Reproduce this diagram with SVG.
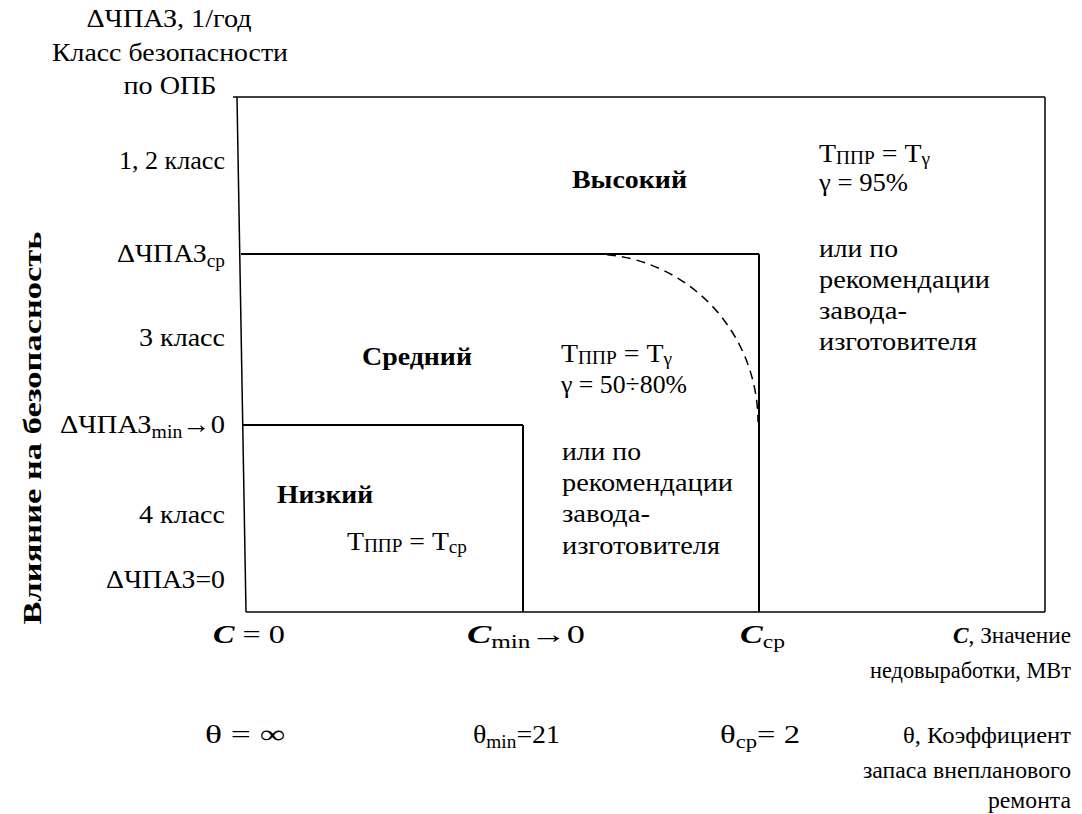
<svg xmlns="http://www.w3.org/2000/svg" width="1082" height="814" viewBox="0 0 1082 814" font-family="Liberation Serif, Tinos, Times New Roman, Nimbus Roman, Noto Serif, DejaVu Serif, FreeSerif, serif">
<style>
text{font-size:26px;fill:#000}
.b{font-weight:bold}
.r{text-anchor:end}
.m{text-anchor:middle}
.s{font-size:18px}
.n{font-size:23px}
.ln{stroke:#000;stroke-width:2;fill:none}
.ax{stroke:#000;stroke-width:1.5;fill:none}
</style>
<rect width="1082" height="814" fill="#fff"/>
<g id="connectors">
<line class="ax" x1="237" y1="97" x2="246" y2="612"/>
<line class="ax" x1="233" y1="97" x2="1045" y2="97"/>
<line class="ax" x1="1045" y1="97" x2="1045" y2="612"/>
<line class="ax" x1="246" y1="612" x2="1045" y2="612"/>
<line class="ln" x1="241" y1="254" x2="759" y2="254"/>
<line class="ln" x1="759" y1="254" x2="759" y2="612"/>
<line class="ln" x1="243" y1="425" x2="523" y2="425"/>
<line class="ln" x1="523" y1="425" x2="523" y2="612"/>
<path class="ax" stroke-dasharray="9,6" d="M592,254 A166,168 0 0 1 758,422"/>
</g>
<g id="y-title">
<text class="m" x="169" y="27" textLength="165" lengthAdjust="spacingAndGlyphs">ΔЧПАЗ, 1/год</text>
<text class="m" x="170" y="61" textLength="236" lengthAdjust="spacingAndGlyphs">Класс безопасности</text>
<text class="m" x="170" y="94" textLength="93" lengthAdjust="spacingAndGlyphs">по ОПБ</text>
</g>
<g id="y-axis-label">
<text class="b m" font-size="28" transform="translate(41,428) rotate(-90)" textLength="393" lengthAdjust="spacingAndGlyphs">Влияние на безопасность</text>
</g>
<g id="y-labels">
<text class="r" x="225" y="169" textLength="106" lengthAdjust="spacingAndGlyphs">1, 2 класс</text>
<text class="r" x="225" y="262" textLength="108" lengthAdjust="spacingAndGlyphs">ΔЧПАЗ<tspan class="s" dy="5">ср</tspan></text>
<text class="r" x="225" y="346" textLength="86" lengthAdjust="spacingAndGlyphs">3 класс</text>
<text class="r" x="225" y="433" textLength="165" lengthAdjust="spacingAndGlyphs">ΔЧПАЗ<tspan class="s" dy="5">min</tspan><tspan dy="-5">→0</tspan></text>
<text class="r" x="225" y="523" textLength="86" lengthAdjust="spacingAndGlyphs">4 класс</text>
<text class="r" x="225" y="588" textLength="119" lengthAdjust="spacingAndGlyphs">ΔЧПАЗ=0</text>
</g>
<g id="high">
<text class="b" x="572" y="188" textLength="115" lengthAdjust="spacingAndGlyphs">Высокий</text>
<text x="819" y="162" textLength="111" lengthAdjust="spacingAndGlyphs">Т<tspan class="s" dy="2">ППР</tspan><tspan dy="-2"> = Т</tspan><tspan class="s" dy="3">γ</tspan></text>
<text x="819" y="191" textLength="89" lengthAdjust="spacingAndGlyphs">γ = 95%</text>
<text x="819" y="257" textLength="79" lengthAdjust="spacingAndGlyphs">или по</text>
<text x="819" y="288" textLength="171" lengthAdjust="spacingAndGlyphs">рекомендации</text>
<text x="819" y="319" textLength="88" lengthAdjust="spacingAndGlyphs">завода-</text>
<text x="819" y="350" textLength="158" lengthAdjust="spacingAndGlyphs">изготовителя</text>
</g>
<g id="medium">
<text class="b" x="362" y="365" textLength="110" lengthAdjust="spacingAndGlyphs">Средний</text>
<text x="561" y="362" textLength="111" lengthAdjust="spacingAndGlyphs">Т<tspan class="s" dy="2">ППР</tspan><tspan dy="-2"> = Т</tspan><tspan class="s" dy="3">γ</tspan></text>
<text x="561" y="393" textLength="126" lengthAdjust="spacingAndGlyphs">γ = 50÷80%</text>
<text x="562" y="460" textLength="79" lengthAdjust="spacingAndGlyphs">или по</text>
<text x="562" y="491" textLength="171" lengthAdjust="spacingAndGlyphs">рекомендации</text>
<text x="562" y="522" textLength="88" lengthAdjust="spacingAndGlyphs">завода-</text>
<text x="562" y="554" textLength="158" lengthAdjust="spacingAndGlyphs">изготовителя</text>
</g>
<g id="low">
<text class="b" x="277" y="503" textLength="96" lengthAdjust="spacingAndGlyphs">Низкий</text>
<text x="347" y="550" textLength="120" lengthAdjust="spacingAndGlyphs">Т<tspan class="s" dy="2">ППР</tspan><tspan dy="-2"> = Т</tspan><tspan class="s" dy="3">ср</tspan></text>
</g>
<g id="x-labels">
<text x="213" y="643" textLength="72" lengthAdjust="spacingAndGlyphs"><tspan class="b" font-style="italic">C</tspan> = 0</text>
<text x="467" y="643" textLength="118" lengthAdjust="spacingAndGlyphs"><tspan class="b" font-style="italic">C</tspan><tspan class="s" dy="5">min</tspan><tspan dy="-5">→0</tspan></text>
<text x="740" y="643" textLength="45" lengthAdjust="spacingAndGlyphs"><tspan class="b" font-style="italic">C</tspan><tspan class="s" dy="5">ср</tspan></text>
<text class="r n" x="1071" y="643" textLength="118" lengthAdjust="spacingAndGlyphs"><tspan class="b" font-style="italic">C</tspan>, Значение</text>
<text class="r n" x="1071" y="678" textLength="201" lengthAdjust="spacingAndGlyphs">недовыработки, МВт</text>
</g>
<g id="theta-labels">
<text x="205" y="743" textLength="80" lengthAdjust="spacingAndGlyphs">θ = ∞</text>
<text x="473" y="743" textLength="87" lengthAdjust="spacingAndGlyphs">θ<tspan class="s" dy="5">min</tspan><tspan dy="-5">=21</tspan></text>
<text x="720" y="743" textLength="80" lengthAdjust="spacingAndGlyphs">θ<tspan class="s" dy="5">ср</tspan><tspan dy="-5">= 2</tspan></text>
<text class="r n" x="1071" y="743" textLength="168" lengthAdjust="spacingAndGlyphs">θ, Коэффициент</text>
<text class="r n" x="1071" y="778" textLength="208" lengthAdjust="spacingAndGlyphs">запаса внепланового</text>
<text class="r n" x="1071" y="808" textLength="83" lengthAdjust="spacingAndGlyphs">ремонта</text>
</g>
</svg>
